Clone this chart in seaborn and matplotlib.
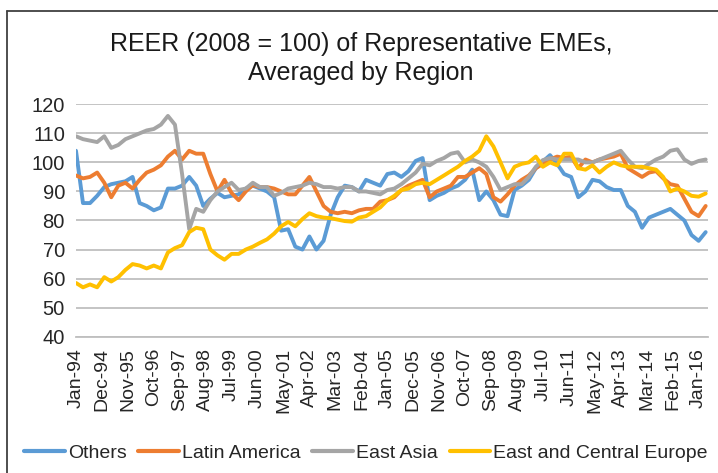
import pandas as pd
import seaborn as sns
import matplotlib.pyplot as plt
import matplotlib.lines as mlines

# quarterly readings, Jan-94 .. Oct-16 step 3 months
dates = pd.date_range('1994-01-01', periods=90, freq='3MS')

others = [104, 86, 86, 88.5, 91.5, 92.5, 93, 93.5, 95, 86, 85, 83.5, 84.5, 91, 91, 92, 95, 92, 85, 87.5, 89.5, 88, 88.5,
          89, 91, 92, 91, 90, 88, 76.5, 77, 71, 70, 74.5, 70, 73, 82, 88, 92, 91.5, 90, 94, 93, 92, 96, 96.5, 95, 97, 100.5, 101.5, 87, 88.5, 89.5, 91, 92,
          94, 97.5, 87, 90, 87, 82, 81.5, 90.5, 92, 94, 98, 100.3, 102.5, 99.5, 96, 95, 88, 90, 94, 93.5, 91.5, 90.5, 90.5, 85, 83, 77.5, 81, 82, 83, 84, 82, 80, 75, 73, 76]
latam = [95.5, 94.5, 95, 96.5, 93, 88, 92, 93, 91, 94, 96.5, 97.5, 99, 102, 104, 101, 104, 103, 103, 96, 90, 94, 89.5,
         87, 90, 92.2, 91.5, 91.5, 91, 90, 89, 89, 92, 95, 90, 85, 83, 82.5, 83, 82.5, 83.5, 84, 84, 86.5, 87, 88, 90.5, 92, 93, 94, 88, 90, 91, 92, 95,
         95, 96.5, 98, 96, 88, 86.5, 89, 92, 94, 95.5, 98, 99.5, 101, 102, 101.5, 102, 98, 101, 100, 101, 101.5, 102, 103, 98, 96.5, 95, 96.5, 97, 94.5, 92.5, 92, 87.5, 83, 81.5, 85]
east_asia = [109, 108, 107.5, 107, 109, 105, 106, 108, 109, 110, 111, 111.5, 113, 116, 113, 96, 77, 84, 83, 87, 90, 91.5, 93,
             90.5, 91, 93, 91.5, 91.5, 88.5, 89.5, 91, 91.5, 92, 93, 92.5, 91.5, 91.5, 91, 91.5, 91.5, 90, 90, 89.5, 89, 90.5, 91, 92.5, 94.5, 96.5, 99.5, 99, 100.5, 101.5, 103, 103.5,
             100, 101, 100, 98.5, 95, 90.5, 91.5, 92.5, 92.5, 95, 98.5, 100.8, 101.5, 101, 101, 101, 101, 100, 100, 101, 102, 103, 104, 101, 98.5, 98, 99.5, 101, 102, 104, 104.5, 101, 99.5, 100.5, 101]
ece = [58.5, 57, 58, 57, 60.5, 59, 60.5, 63, 65, 64.5, 63.5, 64.5, 63.5, 69, 70.5, 71.5, 76, 77.5, 77, 70, 68, 66.5, 68.5,
       68.5, 70, 71, 72.3, 73.5, 75.5, 78, 79.5, 78, 80.5, 82.5, 81.5, 81, 80.8, 80.3, 79.8, 79.6, 81, 81.5, 83, 84.5, 87, 88.5, 90.5, 91, 92.5, 93, 92.5, 94, 95.5, 97, 98.5,
       100.5, 102, 104, 109, 105.5, 100, 94.5, 98.5, 99.5, 100, 102, 98.5, 100, 99, 103, 103, 98, 97.5, 99, 96.5, 98.5, 100, 99, 98.5, 98.5, 98.5, 98, 97.5, 95, 90, 91, 90, 88.5, 88.2, 89.3]

regions = ['Others', 'Latin America', 'East Asia', 'East and Central Europe']
colors = ['#5B9BD5', '#ED7D31', '#A5A5A5', '#FFC000']

tick_dates = pd.date_range('1994-01-01', periods=25, freq='11MS')
tick_labels = ['Jan-94', 'Dec-94', 'Nov-95', 'Oct-96', 'Sep-97', 'Aug-98', 'Jul-99', 'Jun-00', 'May-01',
               'Apr-02', 'Mar-03', 'Feb-04', 'Jan-05', 'Dec-05', 'Nov-06', 'Oct-07', 'Sep-08', 'Aug-09',
               'Jul-10', 'Jun-11', 'May-12', 'Apr-13', 'Mar-14', 'Feb-15', 'Jan-16']

df = pd.DataFrame({'date': dates, 'Others': others, 'Latin America': latam,
                   'East Asia': east_asia, 'East and Central Europe': ece})
df_long = df.melt(id_vars='date', var_name='Region', value_name='REER')

sns.set_style('white')
plt.rcParams['font.family'] = ['Liberation Sans', 'DejaVu Sans']

fig = plt.figure(figsize=(7.18, 4.73), dpi=100)
ax = fig.add_axes([76/718, 1 - 336.7/473, 632/718, 232.4/473])

sns.lineplot(data=df_long, x='date', y='REER', hue='Region', hue_order=regions,
             palette=colors, linewidth=2.8, ax=ax, legend=False)

ax.set_xlim(pd.Timestamp('1994-01-01'), pd.Timestamp('2016-05-01'))
ax.set_ylim(40, 120)
ax.set_yticks(range(40, 121, 10))
ax.set_xticks(tick_dates)
ax.set_xticklabels(tick_labels, rotation=90)
ax.tick_params(axis='x', length=5, color='#BFBFBF', width=1.2, labelsize=14, labelcolor='#262626', pad=3)
ax.tick_params(axis='y', length=0, labelsize=14.5, labelcolor='#262626', pad=8)
ax.grid(axis='y', color='#BFBFBF', linewidth=1.3)
ax.set_axisbelow(True)
for s in ['top', 'right', 'left']:
    ax.spines[s].set_visible(False)
ax.spines['bottom'].set_color('#BFBFBF')
ax.spines['bottom'].set_linewidth(1.3)
ax.set_xlabel('')
ax.set_ylabel('')

# two-line title
fig.text(361/718, 1 - 51.5/473, 'REER (2008 = 100) of Representative EMEs,',
         ha='center', va='baseline', fontsize=18, color='#1a1a1a')
fig.text(361/718, 1 - 80/473, 'Averaged by Region',
         ha='center', va='baseline', fontsize=18, color='#1a1a1a')

handles = [mlines.Line2D([], [], color=c, linewidth=3) for c in colors]
fig.legend(handles, regions, loc='center', bbox_to_anchor=(366/718, 1 - 453/473), ncol=4,
           frameon=False, fontsize=14, handlelength=2.1, handletextpad=0.15, columnspacing=0.6,
           labelcolor='#262626')

# outer chart frame (cut off at right and bottom)
fig.add_artist(mlines.Line2D([7/718, 7/718], [0, 1 - 11/473], transform=fig.transFigure, color='#404040', linewidth=1.3))
fig.add_artist(mlines.Line2D([7/718, 1], [1 - 11/473, 1 - 11/473], transform=fig.transFigure, color='#404040', linewidth=1.3))

fig.savefig('out.png', dpi=100)
